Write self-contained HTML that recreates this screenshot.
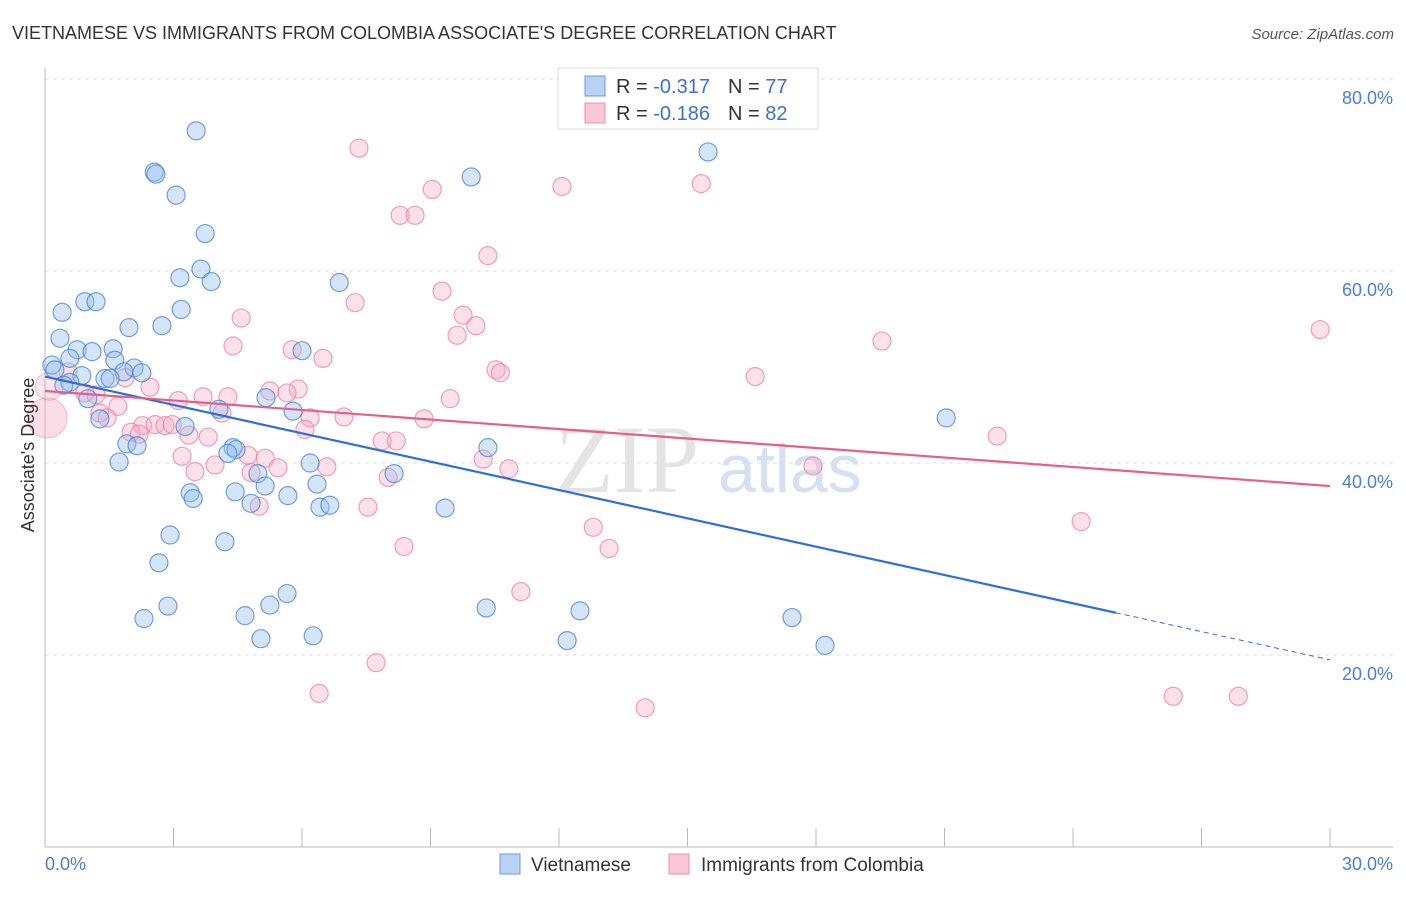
<!DOCTYPE html>
<html><head><meta charset="utf-8"><style>
body{margin:0;background:#fff;font-family:"Liberation Sans",sans-serif}
</style></head><body>
<svg id="chart" width="1406" height="892" viewBox="0 0 1406 892" xmlns="http://www.w3.org/2000/svg">
<text x="12" y="39" font-size="18" fill="#333">VIETNAMESE VS IMMIGRANTS FROM COLOMBIA ASSOCIATE'S DEGREE CORRELATION CHART</text>
<text x="1394" y="39" font-size="15" fill="#555" font-style="italic" text-anchor="end">Source: ZipAtlas.com</text>
<g id="grid"></g>
<g id="axes"></g>
<text x="555" y="492" font-size="96" fill="#e4e4e4" font-family="Liberation Serif,serif">ZIP</text>
<text x="718" y="492" font-size="68" fill="#d4e1f3">atlas</text>
<g id="pts"></g>
<g id="trend"></g>
<text transform="translate(34,455) rotate(-90)" font-size="18" fill="#333" text-anchor="middle">Associate's Degree</text>
<text x="45" y="870" font-size="18" fill="#4a7fd4">0.0%</text>
<text x="1393" y="870" font-size="18" fill="#4a7fd4" text-anchor="end">30.0%</text>
<g>
<rect x="558" y="68" width="260" height="61" fill="#fff" stroke="#ddd"/>
<rect x="585" y="76" width="20" height="20" fill="#b9d1f3" stroke="#6a9be0"/>
<text x="616" y="93" font-size="20" fill="#333">R = <tspan fill="#3a72d0">-0.317</tspan><tspan dx="18">N = </tspan><tspan fill="#3a72d0">77</tspan></text>
<rect x="585" y="103" width="20" height="20" fill="#f9c7d5" stroke="#ec8fab"/>
<text x="616" y="120" font-size="20" fill="#333">R = <tspan fill="#3a72d0">-0.186</tspan><tspan dx="18">N = </tspan><tspan fill="#3a72d0">82</tspan></text>
</g>
<g>
<rect x="500" y="854" width="20" height="20" fill="#b9d1f3" stroke="#6a9be0"/>
<text x="531" y="871" font-size="19" fill="#333">Vietnamese</text>
<rect x="669" y="854" width="20" height="20" fill="#f9c7d5" stroke="#ec8fab"/>
<text x="701" y="871" font-size="19" fill="#333">Immigrants from Colombia</text>
</g>
</svg>
<script>
const yTicks=[20,40,60,80];
const yTickLabels=["20.0%","40.0%","60.0%","80.0%"];
const blueX=[3.53,15.48,2.55,2.59,9.95,3.06,3.74,3.64,3.15,3.88,6.87,0.93,1.19,0.40,3.18,1.96,2.73,0.35,0.75,1.10,1.59,6.0,0.58,1.63,0.16,0.23,2.08,2.26,1.84,0.86,1.40,1.52,0.58,0.44,5.16,1.0,5.79,4.06,1.28,3.27,21.04,1.91,2.15,4.39,4.46,4.27,10.34,6.19,1.73,8.15,4.97,6.35,5.14,3.39,3.46,4.44,5.67,4.81,6.42,6.65,9.34,2.92,4.20,2.66,5.65,5.25,2.87,10.30,12.49,2.31,4.67,17.44,6.26,5.04,12.19,18.21];
const blueY=[74.6,72.4,70.3,70.1,69.8,67.9,63.9,60.2,59.3,58.9,58.8,56.8,56.8,55.7,56.0,54.1,54.3,53.0,51.8,51.6,51.9,51.7,50.9,50.7,50.2,49.7,49.9,49.4,49.5,49.1,48.8,48.8,48.4,48.1,46.8,46.7,45.4,45.6,44.6,43.8,44.7,42.0,41.8,41.6,41.4,41.0,41.6,40.0,40.1,38.9,38.9,37.8,37.6,36.9,36.3,37.0,36.6,35.8,35.4,35.6,35.3,32.5,31.8,29.6,26.4,25.2,25.1,24.9,24.6,23.8,24.1,23.9,22.0,21.7,21.5,21.0];
const pinkX=[7.33,15.32,12.07,9.04,8.29,8.64,10.34,9.27,7.24,9.76,4.58,10.06,9.62,29.77,19.54,4.39,5.77,6.49,10.53,10.63,16.58,1.87,0.54,2.45,5.25,5.91,5.65,4.27,3.69,3.11,9.46,1.19,0.93,1.70,1.28,1.45,4.13,6.98,6.19,8.85,2.28,2.57,2.80,2.97,2.01,2.20,3.36,3.81,6.07,7.87,8.20,22.23,4.74,5.14,3.20,10.23,17.93,6.58,3.97,10.83,5.44,3.50,4.81,8.01,5.0,7.54,24.19,12.80,8.38,13.17,11.11,7.73,6.40,26.34,27.86,14.01];
const pinkY=[72.8,69.1,68.8,68.5,65.8,65.8,61.6,57.9,56.7,55.4,55.1,54.3,53.3,53.9,52.7,52.2,51.8,50.9,49.7,49.4,49.0,48.9,49.5,47.9,47.5,47.7,47.3,46.9,46.9,46.5,46.7,47.1,47.3,45.9,45.2,44.7,45.2,44.8,44.7,44.6,43.9,44.0,43.9,44.0,43.2,43.0,42.9,42.7,43.5,42.3,42.3,42.8,40.8,40.5,40.7,40.4,39.7,39.6,39.8,39.4,39.5,39.1,39.0,38.5,35.5,35.4,33.9,33.3,31.3,31.1,26.6,19.2,16.0,15.7,15.7,14.5];
const bigX=[0.05,0.1];
const bigY=[44.7,48.0];
const blueTrend=[49.0,24.4,19.5];
const pinkTrend=[47.5,37.6];
const NS='http://www.w3.org/2000/svg';
const xs=v=>45+v*42.833;
const ys=v=>847-v*9.6;
function mk(tag,attrs,parent){const e=document.createElementNS(NS,tag);for(const k in attrs)e.setAttribute(k,attrs[k]);parent.appendChild(e);return e;}
const grid=document.getElementById('grid'),axes=document.getElementById('axes'),pts=document.getElementById('pts'),tr=document.getElementById('trend');
yTicks.forEach((t,i)=>{
 const l=mk('line',{x1:45,x2:1393,y1:ys(t),y2:ys(t),stroke:'#ddd','stroke-dasharray':'4,4'},grid);
 
 
 const tx=mk('text',{x:1393,y:ys(t)+25,'font-size':18,fill:'#4a7fd4','text-anchor':'end'},grid);
 tx.textContent=yTickLabels[i];
 
 
});
mk('line',{x1:45,x2:45,y1:68,y2:847,stroke:'#bbb'},axes);
mk('line',{x1:45,x2:1393,y1:847,y2:847,stroke:'#bbb'},axes);
for(let i=0;i<=10;i++){const t=mk('line',{x1:xs(i*3),x2:xs(i*3),y1:828,y2:847,stroke:'#bbb'},axes);
 
 }
bigX.forEach((x,i)=>{const c=mk('circle',{cx:xs(x),cy:ys(bigY[i]),r:i==0?20:14,fill:i==0?'rgba(246,170,195,0.4)':'rgba(246,170,195,0.3)',stroke:'rgba(236,130,165,0.5)'},pts);
 
 });
pinkX.forEach((x,i)=>{const c=mk('circle',{cx:xs(x),cy:ys(pinkY[i]),r:9,fill:'rgba(246,170,195,0.35)',stroke:'rgba(236,130,165,0.75)','stroke-width':1.2},pts);
 
 });
blueX.forEach((x,i)=>{const c=mk('circle',{cx:xs(x),cy:ys(blueY[i]),r:9,fill:'rgba(150,190,240,0.4)',stroke:'rgba(70,130,215,0.75)','stroke-width':1.2},pts);
 
 });
let l=mk('line',{x1:xs(0),y1:ys(blueTrend[0]),x2:xs(25),y2:ys(blueTrend[1]),stroke:'#2f6fd6','stroke-width':2.2},tr);


l=mk('line',{x1:xs(25),y1:ys(blueTrend[1]),x2:xs(30),y2:ys(blueTrend[2]),stroke:'#2f6fd6','stroke-width':1,'stroke-dasharray':'5,4'},tr);


l=mk('line',{x1:xs(0),y1:ys(pinkTrend[0]),x2:xs(30),y2:ys(pinkTrend[1]),stroke:'#e4608a','stroke-width':2.2},tr);


</script>
</body></html>
